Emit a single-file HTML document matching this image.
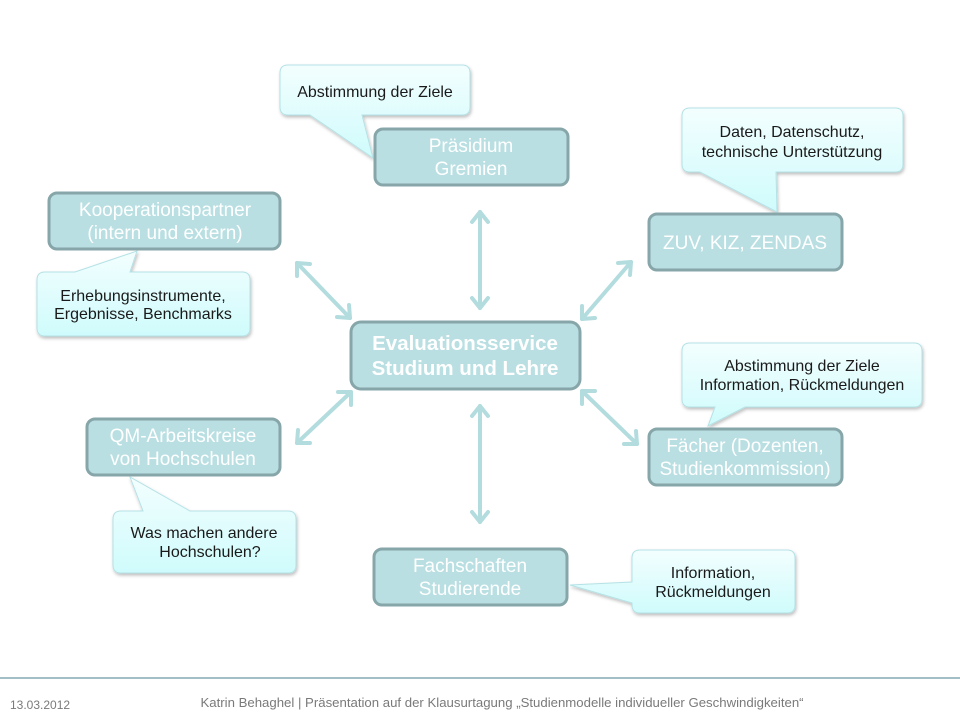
<!DOCTYPE html>
<html><head><meta charset="utf-8">
<style>
html,body{margin:0;padding:0;background:#fff;}
svg{display:block;}
text{font-family:"Liberation Sans",sans-serif;}
</style></head>
<body>
<svg width="960" height="720" viewBox="0 0 960 720" xmlns="http://www.w3.org/2000/svg">
<defs>
<linearGradient id="cg" x1="0" y1="0" x2="0" y2="1">
<stop offset="0" stop-color="#f3fefe"/><stop offset="1" stop-color="#cffbfc"/>
</linearGradient>
<filter id="sh" x="-10%" y="-10%" width="130%" height="140%">
<feDropShadow dx="1" dy="2" stdDeviation="1.5" flood-color="#000" flood-opacity="0.25"/>
</filter>
</defs>

<!-- callouts -->
<g fill="url(#cg)" stroke="#b5e2e6" stroke-width="1" filter="url(#sh)">
<path d="M288,65 H462 Q470,65 470,73 V107 Q470,115 462,115 H362 L373,158 L310,115 H288 Q280,115 280,107 V73 Q280,65 288,65 Z"/>
<path d="M690,108 H895 Q903,108 903,116 V164 Q903,172 895,172 H776 L777,212 L700,172 H690 Q682,172 682,164 V116 Q682,108 690,108 Z"/>
<path d="M45,272 H75 L137,251 L130,272 H242 Q250,272 250,280 V328 Q250,336 242,336 H45 Q37,336 37,328 V280 Q37,272 45,272 Z"/>
<path d="M690,343 H914 Q922,343 922,351 V399 Q922,407 914,407 H745 L708,426 L715,407 H690 Q682,407 682,399 V351 Q682,343 690,343 Z"/>
<path d="M121,511 H143 L130,477 L190,511 H288 Q296,511 296,519 V565 Q296,573 288,573 H121 Q113,573 113,565 V519 Q113,511 121,511 Z"/>
<path d="M640,550 H787 Q795,550 795,558 V605 Q795,613 787,613 H640 Q632,613 632,605 V603 L570,585 L632,582 V558 Q632,550 640,550 Z"/>
</g>
<g font-size="16" fill="#1a1a1a" text-anchor="middle">
<text x="375" y="97">Abstimmung der Ziele</text>
<text x="792" y="137">Daten, Datenschutz,</text>
<text x="792" y="157">technische Unterstützung</text>
<text x="143" y="301">Erhebungsinstrumente,</text>
<text x="143" y="319">Ergebnisse, Benchmarks</text>
<text x="802" y="371">Abstimmung der Ziele</text>
<text x="802" y="390">Information, Rückmeldungen</text>
<text x="204" y="538">Was machen andere</text>
<text x="210" y="557">Hochschulen?</text>
<text x="713" y="578">Information,</text>
<text x="713" y="597">Rückmeldungen</text>
</g>

<!-- arrows -->
<g stroke="#b3dcdf" stroke-width="4" fill="none" stroke-linecap="round" stroke-linejoin="round">
<line x1="480" y1="212" x2="480" y2="308"/>
<polyline points="472,222 480,212 488,222"/><polyline points="472,298 480,308 488,298"/>
<line x1="480" y1="406" x2="480" y2="522"/>
<polyline points="472,416 480,406 488,416"/><polyline points="472,512 480,522 488,512"/>
<line x1="297" y1="263" x2="350" y2="318"/>
<polyline points="297,276 297,263 310,264"/><polyline points="349,305 350,318 337,317"/>
<line x1="631" y1="262" x2="582" y2="319"/>
<polyline points="618,263 631,262 630,275"/><polyline points="582,306 582,319 595,318"/>
<line x1="297" y1="443" x2="351" y2="392"/>
<polyline points="298,430 297,443 310,443"/><polyline points="338,392 351,392 351,405"/>
<line x1="637" y1="444" x2="582" y2="391"/>
<polyline points="624,444 637,444 636,431"/><polyline points="582,404 582,391 595,391"/>
</g>

<!-- boxes -->
<g fill="#b9dfe2" stroke="#87a6a9" stroke-width="3">
<rect x="375" y="129" width="193" height="56" rx="8"/>
<rect x="49" y="193" width="231" height="56" rx="8"/>
<rect x="649" y="214" width="193" height="56" rx="8"/>
<rect x="351" y="322" width="229" height="67" rx="10"/>
<rect x="87" y="419" width="193" height="56" rx="8"/>
<rect x="649" y="429" width="193" height="56" rx="8"/>
<rect x="374" y="549" width="193" height="56" rx="8"/>
</g>
<g font-size="19" fill="#fff" text-anchor="middle">
<text x="471" y="152">Präsidium</text>
<text x="471" y="175">Gremien</text>
<text x="165" y="216">Kooperationspartner</text>
<text x="165" y="239">(intern und extern)</text>
<text x="745" y="249">ZUV, KIZ, ZENDAS</text>
<text x="183" y="442">QM-Arbeitskreise</text>
<text x="183" y="465">von Hochschulen</text>
<text x="745" y="452">Fächer (Dozenten,</text>
<text x="745" y="475">Studienkommission)</text>
<text x="470" y="572">Fachschaften</text>
<text x="470" y="595">Studierende</text>
<text x="465" y="350" font-weight="bold" font-size="20.5">Evaluationsservice</text>
<text x="465" y="375" font-weight="bold" font-size="20.5">Studium und Lehre</text>
</g>

<!-- footer -->
<line x1="0" y1="678" x2="960" y2="678" stroke="#6e97a6" stroke-width="1.2"/>
<text x="10" y="709" font-size="12" fill="#7a7a7a">13.03.2012</text>
<text x="502" y="707" font-size="13.2" fill="#7a7a7a" text-anchor="middle">Katrin Behaghel | Präsentation auf der Klausurtagung „Studienmodelle individueller Geschwindigkeiten“</text>
</svg>
</body></html>
